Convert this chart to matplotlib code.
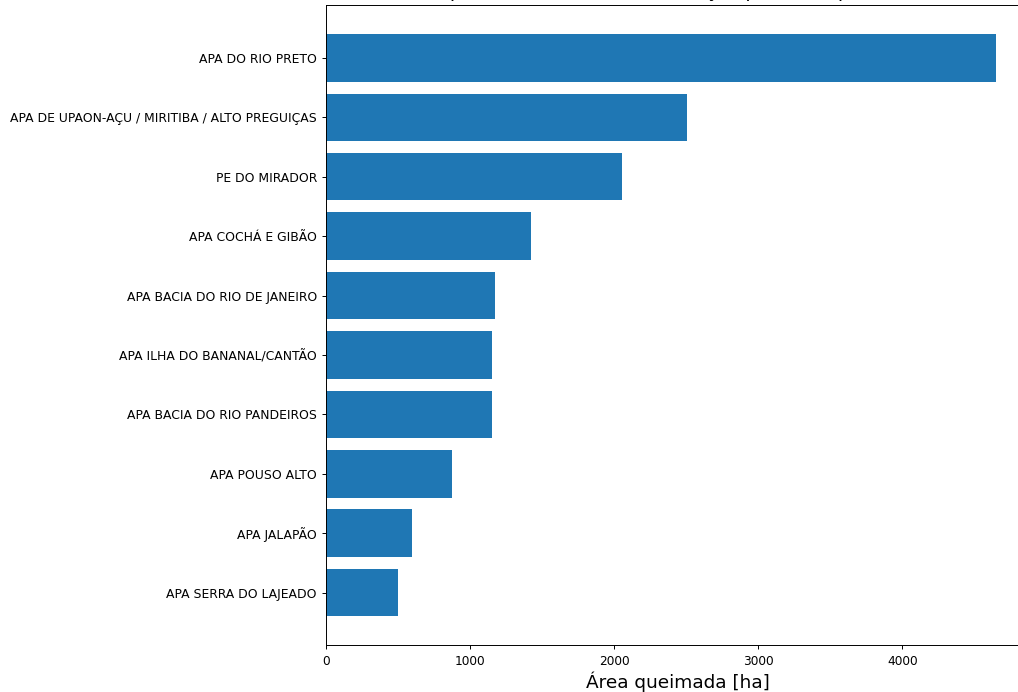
import matplotlib
matplotlib.use("Agg")
import matplotlib.pyplot as plt

# unidades de conservacao, ordenadas da maior para a menor area queimada
ucs = ["APA DO RIO PRETO",
       "APA DE UPAON-AÇU / MIRITIBA / ALTO PREGUIÇAS",
       "PE DO MIRADOR",
       "APA COCHÁ E GIBÃO",
       "APA BACIA DO RIO DE JANEIRO",
       "APA ILHA DO BANANAL/CANTÃO",
       "APA BACIA DO RIO PANDEIROS",
       "APA POUSO ALTO",
       "APA JALAPÃO",
       "APA SERRA DO LAJEADO"]
area = [4653, 2505, 2051, 1424, 1174, 1152, 1151, 875, 600, 498]
titulo = "Top 10 unidades de conservação por área queimada"

fig = plt.figure(figsize=(10.18, 6.92), dpi=100)
ax = fig.add_axes([0.3202, 0.0672, 0.6916, 0.9256])

ax.barh(ucs, area, color="#1f77b4")
ax.invert_yaxis()

ax.set_xlabel("Área queimada [ha]", fontsize=13.3, labelpad=3)
# o titulo fica quase todo acima da borda, como na figura original
ax.set_title(titulo, fontsize=13.6, pad=5.5)
ax.tick_params(axis="x", labelsize=8.7, width=0.7, length=3)
ax.tick_params(axis="y", labelsize=8.9, width=0.7, length=3)
for s in ax.spines.values():
    s.set_linewidth(0.7)

fig.savefig("out.png", dpi=100)
